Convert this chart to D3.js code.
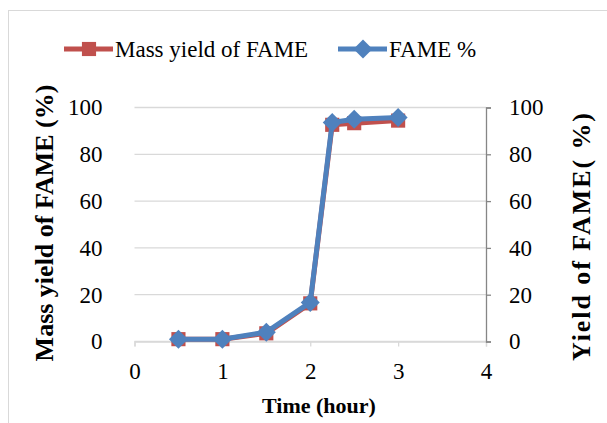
<!DOCTYPE html>
<html>
<head>
<meta charset="utf-8">
<script src="https://cdn.jsdelivr.net/npm/d3@7"></script>
<style>
  body { margin: 0; background: #fff; }
  svg text { font-family: "Liberation Serif", "Times New Roman", serif; }
</style>
</head>
<body>
<svg width="607" height="423"></svg>
<script>
// data
const time = [0.5, 1, 1.5, 2, 2.25, 2.5, 3];
const massYield = [1, 1, 3.5, 16.3, 92.6, 93.3, 94.4];
const famePct = [1, 1, 4, 16.7, 93.6, 95, 95.7];
const xTicks = [0, 1, 2, 3, 4];
const yTicks = [0, 20, 40, 60, 80, 100];

const svg = d3.select("svg");
const red = "#c0504d", blue = "#4f81bd";
const serif = "Liberation Serif, Times New Roman, serif";

// frame
svg.append("rect")
    .attr("x", 8.5).attr("y", 10.5)
    .attr("width", 620).attr("height", 430)
    .attr("fill", "none").attr("stroke", "#d9d9d9");

const x = d3.scaleLinear().domain([0, 4]).range([134.5, 486]);
const y = d3.scaleLinear().domain([0, 100]).range([341.5, 107.5]);

// gridlines
svg.append("g")
    .selectAll("line")
    .data(yTicks)
    .join("line")
    .attr("x1", x(0)).attr("x2", x(4))
    .attr("y1", d => y(d)).attr("y2", d => y(d))
    .attr("stroke", "#d9d9d9").attr("stroke-width", 1.3);

// x axis
const gx = svg.append("g")
    .attr("transform", `translate(0,${y(0)})`)
    .call(d3.axisBottom(x).tickValues(xTicks).tickFormat(d3.format("d")).tickSize(5).tickPadding(16))
    .attr("font-family", serif).attr("font-size", 23);
gx.select(".domain").attr("stroke", "#d9d9d9").attr("stroke-width", 1.3);
gx.selectAll(".tick line").attr("stroke", "#d9d9d9").attr("stroke-width", 1.3);
gx.selectAll("text").attr("fill", "#000");

// left axis (labels only)
const gl = svg.append("g")
    .attr("transform", `translate(${x(0)},0)`)
    .call(d3.axisLeft(y).tickValues(yTicks).tickSize(0).tickPadding(32))
    .attr("font-family", serif).attr("font-size", 23);
gl.select(".domain").remove();
gl.selectAll("text").attr("fill", "#000");

// right axis
const gr = svg.append("g")
    .attr("transform", `translate(${x(4)},0)`)
    .call(d3.axisRight(y).tickValues(yTicks).tickSize(5).tickPadding(18))
    .attr("font-family", serif).attr("font-size", 23);
gr.select(".domain").attr("stroke", "#868686").attr("stroke-width", 1.3);
gr.selectAll(".tick line").attr("stroke", "#868686").attr("stroke-width", 1.3);
gr.selectAll("text").attr("fill", "#000");

// series
const line = d3.line().x((d, i) => x(time[i])).y(d => y(d));
const square = d3.symbol().type(d3.symbolSquare).size(200);
const diamond = d3.symbol().type(d3.symbolSquare).size(180);

svg.append("path").datum(massYield).attr("d", line)
    .attr("fill", "none").attr("stroke", red).attr("stroke-width", 5).attr("stroke-linejoin", "round");
svg.append("g").selectAll("path").data(massYield).join("path")
    .attr("d", square)
    .attr("transform", (d, i) => `translate(${x(time[i])},${y(d)})`)
    .attr("fill", red);

svg.append("path").datum(famePct).attr("d", line)
    .attr("fill", "none").attr("stroke", blue).attr("stroke-width", 5).attr("stroke-linejoin", "round");
svg.append("g").selectAll("path").data(famePct).join("path")
    .attr("d", diamond)
    .attr("transform", (d, i) => `translate(${x(time[i])},${y(d)}) rotate(45)`)
    .attr("fill", blue);

// axis titles
svg.append("text")
    .attr("x", 319).attr("y", 413)
    .attr("font-family", serif)
    .attr("text-anchor", "middle").attr("font-size", 22).attr("font-weight", "bold")
    .text("Time (hour)");
svg.append("text")
    .attr("transform", "translate(53,223) rotate(-90)")
    .attr("font-family", serif)
    .attr("text-anchor", "middle").attr("font-size", 26).attr("font-weight", "bold")
    .text("Mass yield of FAME (%)");
svg.append("text")
    .attr("transform", "translate(590,237) rotate(-90)")
    .attr("font-family", serif)
    .attr("text-anchor", "middle").attr("font-size", 26).attr("font-weight", "bold")
    .attr("textLength", 248).attr("lengthAdjust", "spacing")
    .text("Yield of FAME( %)");

// legend
const legend = [
  { name: "Mass yield of FAME", color: red, sym: square, rot: 0, x0: 64 },
  { name: "FAME %", color: blue, sym: diamond, rot: 45, x0: 338 }
];
const lg = svg.append("g").selectAll("g").data(legend).join("g")
    .attr("transform", d => `translate(${d.x0},49)`);
lg.append("line").attr("x1", 0).attr("x2", 49)
    .attr("stroke", d => d.color).attr("stroke-width", 5);
lg.append("path").attr("d", d => d.sym()).attr("transform", d => `translate(25,0) rotate(${d.rot})`)
    .attr("fill", d => d.color);
lg.append("text").attr("x", 51).attr("y", 8)
    .attr("font-family", serif).attr("font-size", 23)
    .text(d => d.name);
</script>
</body>
</html>
